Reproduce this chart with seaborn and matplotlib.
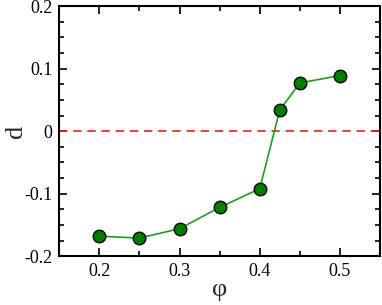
import pandas as pd
import matplotlib
matplotlib.use("Agg")
import matplotlib.pyplot as plt
from matplotlib.ticker import MultipleLocator
import seaborn as sns

# Data
phi = [0.2, 0.25, 0.3, 0.35, 0.4, 0.425, 0.45, 0.5]
d = [-0.168, -0.171, -0.156, -0.122, -0.092, 0.034, 0.077, 0.089]
xticks = [0.2, 0.3, 0.4, 0.5]
yticks = [-0.2, -0.1, 0.0, 0.1, 0.2]
yticklabels = ["-0.2", "-0.1", "0", "0.1", "0.2"]

df = pd.DataFrame({"phi": phi, "d": d})

sns.set_style("ticks")
plt.rcParams["font.family"] = ["Liberation Serif", "DejaVu Serif"]

fig, ax = plt.subplots(figsize=(3.82, 3.05), dpi=100)
fig.subplots_adjust(left=0.155, right=0.995, top=0.98, bottom=0.16)

ax.axhline(0, color="#e8201c", lw=1.2, ls=(0, (5, 3.5)), zorder=1)
sns.lineplot(data=df, x="phi", y="d", ax=ax, color="#1aa01a", lw=1.2,
             marker="o", markersize=9, markerfacecolor="#008000",
             markeredgecolor="black", markeredgewidth=1.0, zorder=3)

ax.set_xlim(0.15, 0.55)
ax.set_ylim(-0.2, 0.2)
ax.set_xticks(xticks)
ax.set_xticklabels([str(t) for t in xticks])
ax.set_yticks(yticks)
ax.set_yticklabels(yticklabels)
ax.xaxis.set_minor_locator(MultipleLocator(0.05))
ax.yaxis.set_minor_locator(MultipleLocator(0.025))
ax.tick_params(which="both", direction="in", top=True, right=True,
               labelsize=13, width=1.2, colors="black")
ax.tick_params(which="major", length=6, pad=5)
ax.tick_params(which="minor", length=3.5)
for s in ax.spines.values():
    s.set_linewidth(1.5)
    s.set_color("black")

ax.set_xlabel("φ", fontsize=19)
ax.set_ylabel("d", fontsize=19)
ax.yaxis.set_label_coords(-0.1, 0.5)
ax.xaxis.set_label_coords(0.5, -0.09)

fig.savefig("out.png", dpi=100)
